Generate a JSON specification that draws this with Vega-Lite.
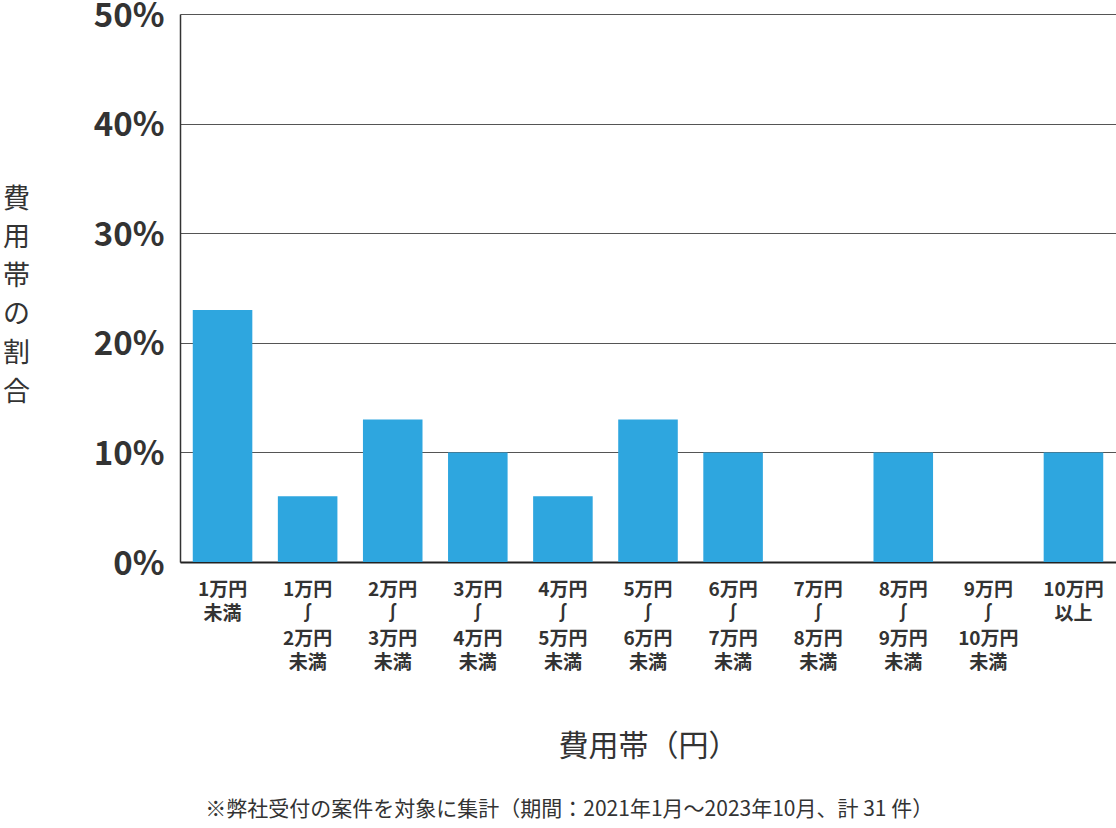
{
  "$schema": "https://vega.github.io/schema/vega-lite/v6.json",
  "width": 936,
  "height": 548,
  "autosize": {"type": "none"},
  "padding": {"left": 180, "top": 14, "right": 0, "bottom": 266},
  "background": "white",
  "config": {
    "font": "Noto Sans CJK JP",
    "view": {"stroke": null}
  },
  "title": {
    "text": "※弊社受付の案件を対象に集計（期間：2021年1月～2023年10月、計 31 件）",
    "orient": "bottom",
    "anchor": "middle",
    "frame": "bounds",
    "fontSize": 21,
    "fontWeight": "normal",
    "color": "#333333",
    "font": "Noto Sans CJK JP",
    "offset": 37,
    "dx": 10
  },
  "data": {
    "values": [
      {"band": "1万円|未満", "pct": 23},
      {"band": "1万円|∫|2万円|未満", "pct": 6},
      {"band": "2万円|∫|3万円|未満", "pct": 13},
      {"band": "3万円|∫|4万円|未満", "pct": 10},
      {"band": "4万円|∫|5万円|未満", "pct": 6},
      {"band": "5万円|∫|6万円|未満", "pct": 13},
      {"band": "6万円|∫|7万円|未満", "pct": 10},
      {"band": "7万円|∫|8万円|未満", "pct": 0},
      {"band": "8万円|∫|9万円|未満", "pct": 10},
      {"band": "9万円|∫|10万円|未満", "pct": 0},
      {"band": "10万円|以上", "pct": 10}
    ]
  },
  "mark": {"type": "bar", "color": "#2EA6DF"},
  "encoding": {
    "x": {
      "field": "band",
      "type": "nominal",
      "sort": null,
      "scale": {"paddingInner": 0.3, "paddingOuter": 0.15},
      "axis": {
        "title": "費用帯（円）",
        "titleFontSize": 30,
        "titleFontWeight": "normal",
        "titleColor": "#333333",
        "titlePadding": 59,
        "labelExpr": "split(datum.label, '|')",
        "labelAngle": 0,
        "labelFontSize": 19,
        "labelFontWeight": "bold",
        "labelColor": "#333333",
        "labelLineHeight": 24.5,
        "labelPadding": 18,
        "labelBaseline": "top",
        "ticks": false,
        "domainColor": "#222222",
        "domainWidth": 2
      }
    },
    "y": {
      "field": "pct",
      "type": "quantitative",
      "scale": {"domain": [0, 50], "nice": false},
      "axis": {
        "values": [0, 10, 20, 30, 40, 50],
        "labelExpr": "datum.value + '%'",
        "labelFontSize": 33,
        "labelFontWeight": "bold",
        "labelColor": "#333333",
        "labelPadding": 16,
        "labelOffset": 2,
        "labelFlush": false,
        "ticks": false,
        "domainColor": "#333333",
        "domainWidth": 1.5,
        "gridColor": "#555555",
        "gridWidth": 1,
        "title": ["費", "用", "帯", "の", "割", "合"],
        "titleAngle": 0,
        "titleFontSize": 27,
        "titleFontWeight": "normal",
        "titleColor": "#333333",
        "titleLineHeight": 38.6,
        "titleAlign": "center",
        "titleBaseline": "top",
        "titleX": -164,
        "titleY": 172
      }
    }
  }
}
